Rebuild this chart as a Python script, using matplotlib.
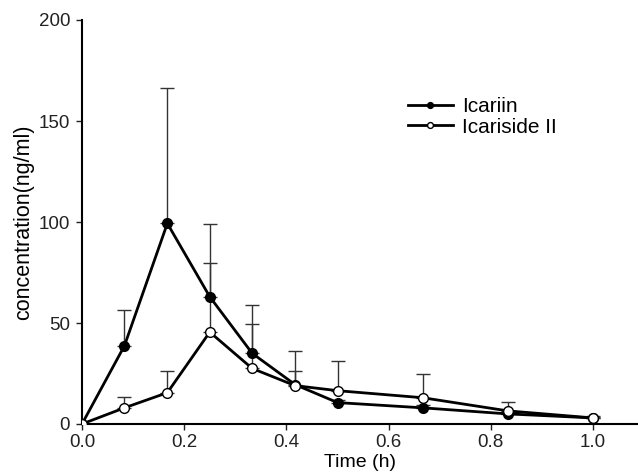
import matplotlib
matplotlib.use("Agg")
import matplotlib.pyplot as plt

plt.rcParams["font.family"] = ["Liberation Sans", "DejaVu Sans"]

# sampling times (h)
time_h = [0.0, 0.083, 0.167, 0.25, 0.333, 0.417, 0.5, 0.667, 0.833, 1.0]

# Icariin mean and upper SD
icariin = [0.0, 38.7, 99.3, 63.0, 35.0, 19.5, 10.6, 8.0, 5.0, 3.0]
icariin_sd = [0.0, 17.5, 67.0, 36.0, 24.0, 16.5, 1.5, 1.2, 1.0, 0.5]

# Icariside II mean and upper SD
icariside = [0.0, 8.0, 15.5, 45.5, 27.5, 19.0, 16.5, 13.0, 6.5, 3.0]
icariside_sd = [0.0, 5.5, 10.5, 34.0, 22.0, 7.0, 14.5, 12.0, 4.5, 0.8]

labels = ["Icariin", "Icariside II"]

fig = plt.figure(figsize=(6.38, 4.76), dpi=100)
ax = fig.add_axes([82 / 638, 1 - 424 / 476, 1 - 82 / 638, (424 - 20) / 476])

zero = [0] * len(time_h)

ax.errorbar(time_h, icariin, yerr=[zero, icariin_sd], fmt="none", ecolor="#333333",
            elinewidth=1, capsize=5, capthick=1, zorder=1)
ax.errorbar(time_h, icariside, yerr=[zero, icariside_sd], fmt="none", ecolor="#333333",
            elinewidth=1, capsize=5, capthick=1, zorder=1)

ax.plot(time_h, icariin, "-o", color="black", lw=2, ms=7, mfc="black", mec="black",
        label=labels[0], zorder=3)
ax.plot(time_h, icariside, "-o", color="black", lw=2, ms=7, mfc="white", mec="black",
        mew=1, label=labels[1], zorder=4)

ax.set_xlim(0, 1.088)
ax.set_ylim(0, 200)
ax.set_xticks([0.0, 0.2, 0.4, 0.6, 0.8, 1.0])
ax.set_xticklabels(["0.0", "0.2", "0.4", "0.6", "0.8", "1.0"])
ax.set_yticks([0, 50, 100, 150, 200])

for s in ["top", "right"]:
    ax.spines[s].set_visible(False)
ax.spines["left"].set_linewidth(1.5)
ax.spines["bottom"].set_linewidth(1.5)
ax.tick_params(direction="out", length=4.5, width=1, labelsize=13.5, colors="#222222")
ax.tick_params(axis="y", pad=4)
ax.tick_params(axis="x", pad=3)

ax.set_xlabel("Time (h)", fontsize=14, labelpad=2)
ax.set_ylabel("concentration(ng/ml)", fontsize=15.5, labelpad=3)

ax.legend(loc="center left", bbox_to_anchor=(408 / 638, 1 - 117 / 476),
          bbox_transform=fig.transFigure, frameon=False, fontsize=15,
          handlelength=2.15, handletextpad=0.45, labelspacing=0.05,
          borderpad=0, borderaxespad=0, markerscale=0.6)

fig.savefig("out.png", dpi=100)
